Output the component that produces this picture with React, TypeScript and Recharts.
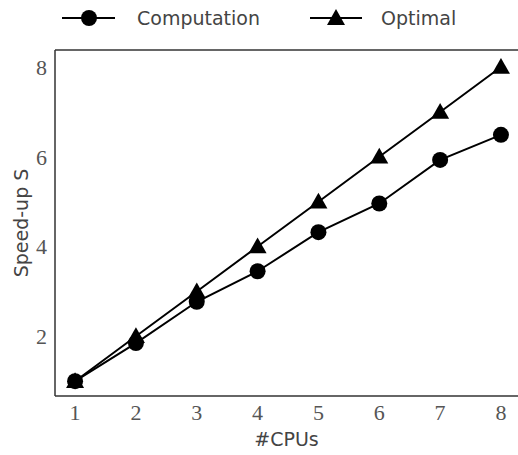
import React from 'react';
import { LineChart, Line, XAxis, YAxis, Legend, ReferenceLine } from 'recharts';

const cpus = [1, 2, 3, 4, 5, 6, 7, 8];
const computation = [1, 1.85, 2.77, 3.45, 4.32, 4.96, 5.93, 6.49];
const optimal = [1, 2, 3, 4, 5, 6, 7, 8];
const xTicks = [1, 2, 3, 4, 5, 6, 7, 8];
const yTicks = [2, 4, 6, 8];

const data = cpus.map((c, i) => ({ cpus: c, computation: computation[i], optimal: optimal[i] }));

const X_DOMAIN = [0.67, 8.28];
const Y_DOMAIN = [0.67, 8.38];

const tickFont = { fontFamily: 'Liberation Serif', fontSize: 22, fill: '#555' };
const labelFont = { fontFamily: 'DejaVu Sans', fontSize: 19, fill: '#444' };

const CircleDot = (props: any) => {
    const { cx, cy } = props;
    if (cx == null || cy == null) return null;
    return <circle cx={cx} cy={cy} r={8} fill="#000" />;
};

const TriangleDot = (props: any) => {
    const { cx, cy } = props;
    if (cx == null || cy == null) return null;
    const s = 9;
    return <polygon points={`${cx},${cy - s} ${cx + s},${cy + s * 0.75} ${cx - s},${cy + s * 0.75}`} fill="#000" />;
};

const renderLegend = () => (
    <svg width={518} height={40} style={{ display: 'block' }}>
        <line x1={62} y1={18} x2={115} y2={18} stroke="#000" strokeWidth={2} />
        <circle cx={89} cy={18} r={8} fill="#000" />
        <text x={137} y={25} style={labelFont as any} fill="#444">Computation</text>
        <line x1={310} y1={18} x2={362} y2={18} stroke="#000" strokeWidth={2} />
        <polygon points="336,9 345,25 327,25" fill="#000" />
        <text x={381} y={25} style={labelFont as any} fill="#444">Optimal</text>
    </svg>
);

export default function App() {
    return (
        <div style={{ position: 'absolute', left: 0, top: 0 }}>
            <LineChart width={518} height={455} data={data} margin={{ top: 10, right: 0, bottom: 0, left: 15 }}>
                <Legend verticalAlign="top" align="left" content={renderLegend}
                    wrapperStyle={{ top: 0, left: 0, width: 518, height: 40 }} />
                <XAxis dataKey="cpus" type="number" domain={X_DOMAIN} ticks={xTicks}
                    allowDataOverflow tickLine={false} stroke="#333" strokeWidth={1.5}
                    tick={tickFont} height={59}
                    label={{ value: '#CPUs', position: 'insideBottom', offset: 9, style: labelFont }} />
                <YAxis type="number" domain={Y_DOMAIN} ticks={yTicks} allowDataOverflow
                    tickLine={false} stroke="#333" strokeWidth={1.5} tick={tickFont} width={40}
                    label={{ value: 'Speed-up S', angle: -90, position: 'insideLeft', offset: 6, style: { ...labelFont, textAnchor: 'middle' } }} />
                <ReferenceLine y={Y_DOMAIN[1]} stroke="#333" strokeWidth={1.5} />
                <Line dataKey="computation" stroke="#000" strokeWidth={2} dot={<CircleDot />} isAnimationActive={false} />
                <Line dataKey="optimal" stroke="#000" strokeWidth={2} dot={<TriangleDot />} isAnimationActive={false} />
            </LineChart>
        </div>
    );
}
